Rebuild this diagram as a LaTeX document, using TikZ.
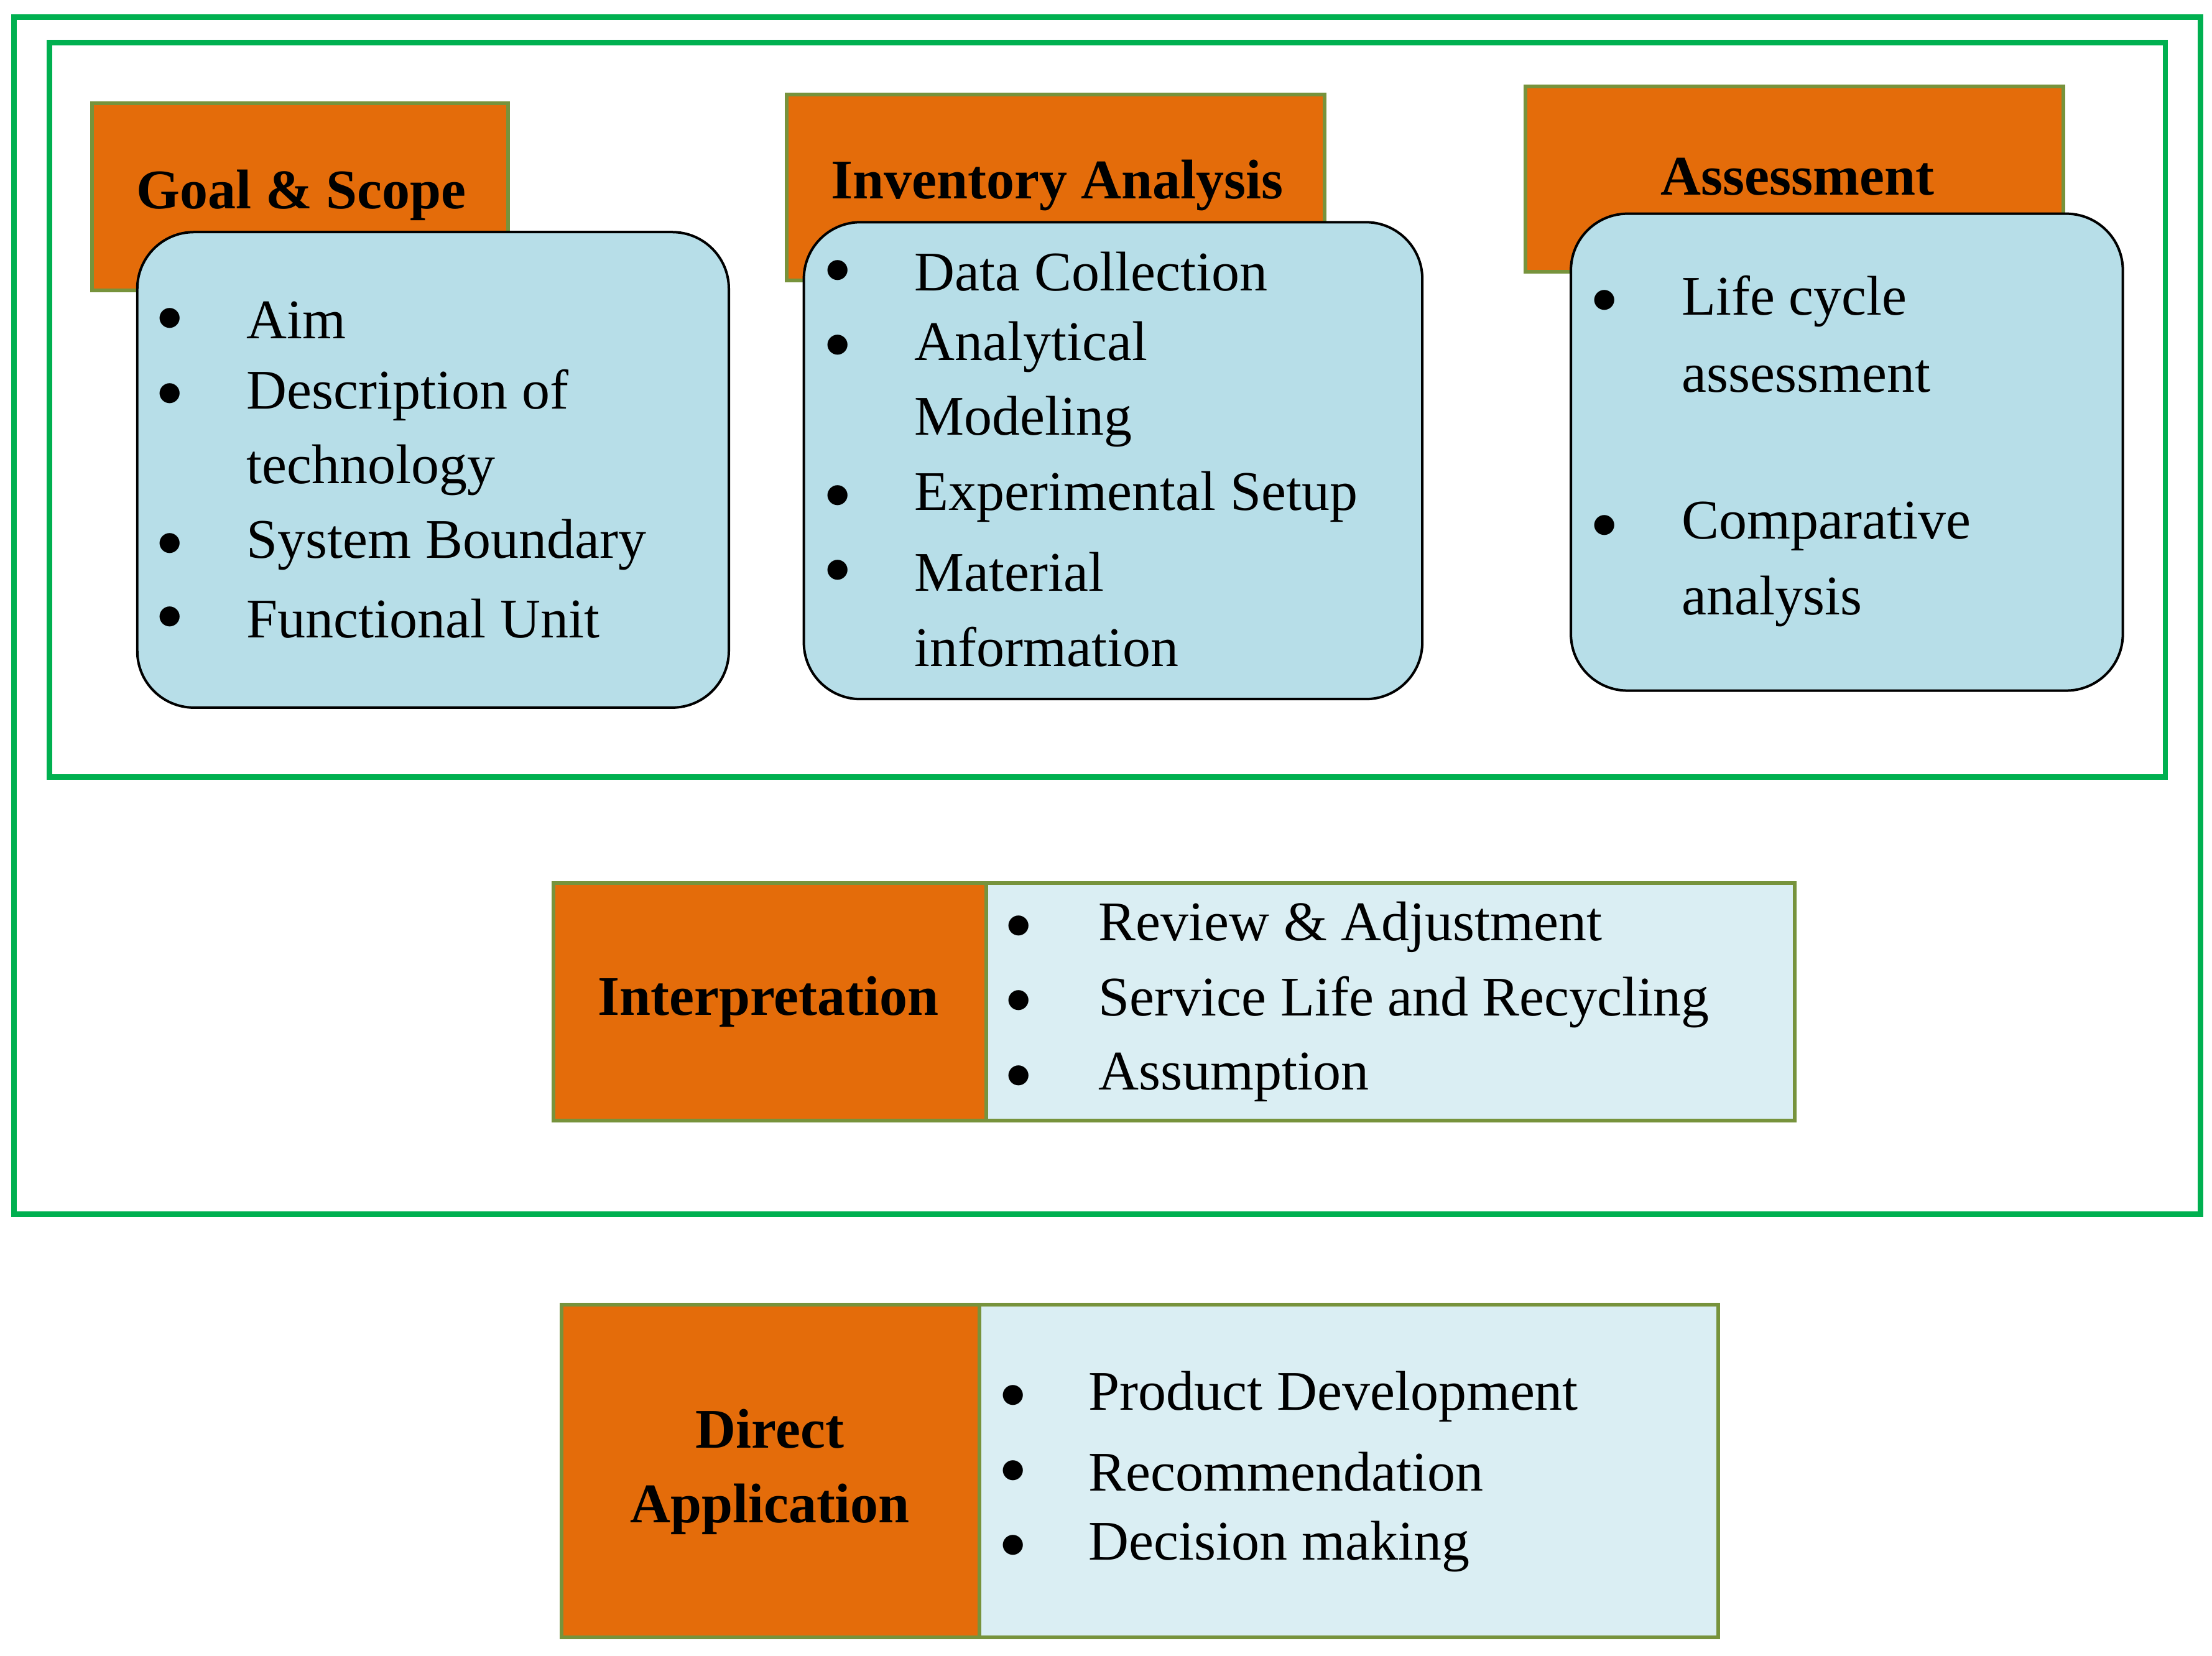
\documentclass[tikz,border=0pt]{standalone}
\usepackage{fontspec}
\setmainfont{Liberation Serif}
\definecolor{grn}{RGB}{0,176,80}
\definecolor{org}{RGB}{228,108,10}
\definecolor{olv}{RGB}{119,147,60}
\definecolor{lb}{RGB}{183,222,232}
\definecolor{llb}{RGB}{218,238,243}
\begin{document}
\begin{tikzpicture}[x=0.02cm,y=-0.02cm,
  frame/.style={draw=grn,line width=2.2pt},
  obox/.style={draw=olv,fill=org,line width=1.5pt},
  bbox/.style={draw=black,fill=lb,line width=1pt,rounded corners=0.8cm},
  lbox/.style={draw=olv,fill=llb,line width=1.5pt},
  ttl/.style={font=\fontsize{22.5}{30}\selectfont\bfseries,align=center,inner sep=0pt},
  txt/.style={font=\fontsize{22.5}{30}\selectfont,anchor=west,inner sep=0pt},
  bul/.style={font=\fontsize{22.5}{30}\selectfont,inner sep=0pt}]
\useasboundingbox (0,0) rectangle (1563,1170);
\draw[frame] (10,12) rectangle (1555,858);
\draw[frame] (35,30) rectangle (1530,549);
% Goal & Scope
\draw[obox] (65,73) rectangle (359,205);
\node[ttl] (g) at (213,138) {Goal \& Scope};
\draw[bbox] (97,164) rectangle (515,500);
\foreach \y/\t [count=\i] in {226/Aim,279/Description of,332/technology,385/System Boundary,437/Functional Unit}{
  \node[txt] (gt\i) at (174,\y) {\t};}
\foreach \y [count=\i] in {226,279,385,437}{\node[bul] (gb\i) at (120,\y) {$\bullet$};}
% Inventory
\draw[obox] (556,67) rectangle (936,198);
\node[ttl] (inv) at (747,131) {Inventory Analysis};
\draw[bbox] (568,157) rectangle (1005,494);
\foreach \y/\t [count=\i] in {192/Data Collection,245/Analytical,298/Modeling,351/Experimental Setup,404/Material,457/information}{
  \node[txt] (it\i) at (646,\y) {\t};}
\foreach \y [count=\i] in {192,245,351,404}{\node[bul] (ib\i) at (592,\y) {$\bullet$};}
% Assessment
\draw[obox] (1078,61) rectangle (1458,192);
\node[ttl] (as) at (1270,125) {Assessment};
\draw[bbox] (1110,151) rectangle (1500,488);
\foreach \y/\t [count=\i] in {213/Life cycle,266/assessment,372/Comparative,425/analysis}{
  \node[txt] (at\i) at (1188,\y) {\t};}
\foreach \y [count=\i] in {213,372}{\node[bul] (ab\i) at (1134,\y) {$\bullet$};}
% Interpretation
\draw[obox] (391,624) rectangle (697,792);
\draw[lbox] (697,624) rectangle (1268,792);
\node[ttl] (ip) at (543,708) {Interpretation};
\foreach \y/\t [count=\i] in {655/Review \& Adjustment,708/Service Life and Recycling,761/Assumption}{
  \node[txt] (pt\i) at (776,\y) {\t};
  \node[bul] (pb\i) at (720,\y) {$\bullet$};}
% Direct application
\draw[obox] (397,922) rectangle (692,1157);
\draw[lbox] (692,922) rectangle (1214,1157);
\node[ttl] (da) at (544,1040) {Direct\\Application};
\foreach \y/\t [count=\i] in {987/Product Development,1040/Recommendation,1093/Decision making}{
  \node[txt] (dt\i) at (769,\y) {\t};
  \node[bul] (db\i) at (716,\y) {$\bullet$};}
\end{tikzpicture}
\end{document}
